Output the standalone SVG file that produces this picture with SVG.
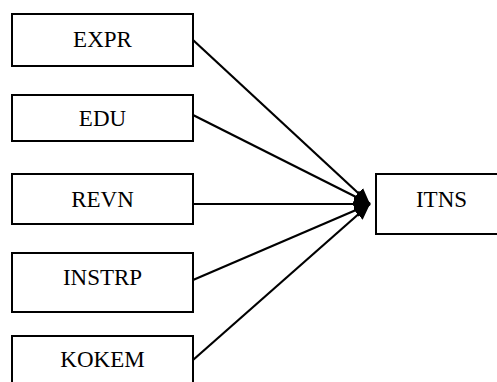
<svg xmlns="http://www.w3.org/2000/svg" width="497" height="382" viewBox="0 0 497 382">
  <style>
    .box { fill: #ffffff; stroke: #000000; stroke-width: 2; }
    .lbl { font-family: "Liberation Serif", "Times New Roman", serif; font-size: 23px; fill: #000000; text-anchor: middle; }
    .edge { stroke: #000000; stroke-width: 2.2; fill: none; marker-end: url(#head); }
  </style>
  <defs>
    <marker id="head" markerUnits="userSpaceOnUse" markerWidth="16" markerHeight="14" refX="16" refY="7" orient="auto">
      <path d="M0,0 L16,7 L0,14 Z" fill="#000000"/>
    </marker>
  </defs>
  <rect width="497" height="382" fill="#ffffff"/>

  <g id="connectors">
    <line class="edge" x1="193" y1="40" x2="370" y2="204"/>
    <line class="edge" x1="193" y1="115" x2="370" y2="204"/>
    <line class="edge" x1="193" y1="204" x2="370" y2="204"/>
    <line class="edge" x1="193" y1="280" x2="370" y2="204"/>
    <line class="edge" x1="193" y1="360" x2="370" y2="204"/>
  </g>

  <g id="expr">
    <rect class="box" x="12" y="14" width="181" height="52"/>
    <text class="lbl" x="102.5" y="47">EXPR</text>
  </g>
  <g id="edu">
    <rect class="box" x="12" y="95" width="181" height="46"/>
    <text class="lbl" x="102.5" y="126">EDU</text>
  </g>
  <g id="revn">
    <rect class="box" x="12" y="174" width="181" height="50"/>
    <text class="lbl" x="102.5" y="207">REVN</text>
  </g>
  <g id="instrp">
    <rect class="box" x="12" y="253" width="181" height="59"/>
    <text class="lbl" x="102.5" y="285">INSTRP</text>
  </g>
  <g id="kokem">
    <rect class="box" x="12" y="336" width="181" height="60"/>
    <text class="lbl" x="102.5" y="367">KOKEM</text>
  </g>
  <g id="itns">
    <rect class="box" x="376" y="174" width="130" height="60"/>
    <text class="lbl" x="441.5" y="207">ITNS</text>
  </g>
</svg>
